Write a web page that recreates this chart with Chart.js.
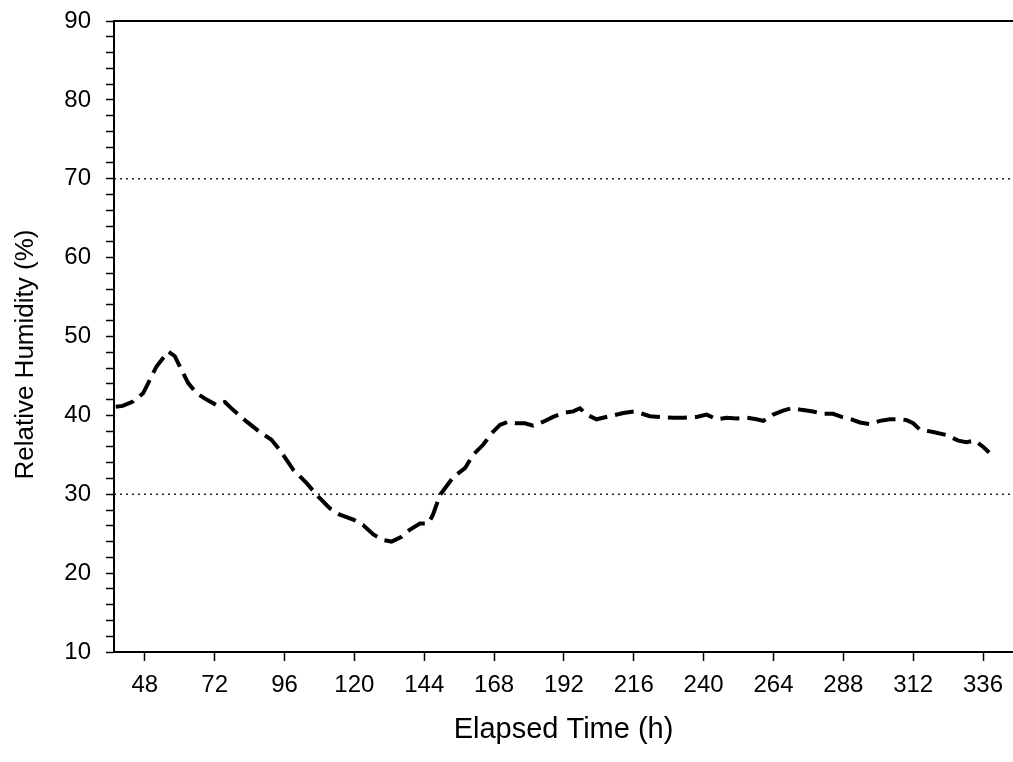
<!DOCTYPE html>
<html>
<head>
<meta charset="utf-8">
<script src="https://cdn.jsdelivr.net/npm/chart.js@4/dist/chart.umd.min.js"></script>
<style>
  html, body { margin: 0; padding: 0; background: #fff; }
  canvas { display: block; }
</style>
</head>
<body>
<canvas id="rhChart" width="1013" height="762"></canvas>
<script>
// elapsed time (h) and relative humidity (%) readings
const hours = [
  38, 40.4, 43.9, 47.4, 52, 56, 58.3, 60, 62.9, 65.8, 69.2, 72.6, 75.5, 78.3,
  83, 87.5, 91.5, 94.4, 99, 103.6, 107.6, 111.6, 115, 119.6, 123, 126.5, 129.9,
  132.8, 136.2, 139, 142.5, 145.4, 147, 149.4, 154, 158, 160.8, 164.3, 167.1,
  170, 172.8, 175.7, 178.6, 181.4, 184.9, 188.3, 191.7, 195.2, 197.5, 199.8,
  203.2, 207.8, 212.4, 216.4, 221.5, 225, 229.6, 233, 237.6, 241, 244.5, 247.9,
  251.3, 254.8, 258.2, 260.5, 263.9, 267.3, 270.2, 273.6, 277.6, 281, 284.5,
  287.4, 290.8, 293.7, 297.1, 300.6, 304, 307.5, 309.8, 312, 314.3, 318.9,
  323.5, 327.5, 330.3, 333.2, 336.1, 338.1
];
const humidity = [
  41.1, 41.2, 41.75, 42.8, 46.2, 48.1, 47.5, 46.2, 44.1, 42.8, 42.0, 41.3, 41.7, 40.7,
  39.2, 37.9, 36.9, 35.6, 33.1, 31.4, 29.7, 28.2, 27.4, 26.8, 26.1, 24.9, 24.2,
  24.0, 24.6, 25.5, 26.3, 26.3, 27.4, 29.9, 32.2, 33.3, 35.0, 36.3, 37.7,
  38.8, 39.2, 39.0, 39.0, 38.7, 39.2, 39.8, 40.3, 40.5, 40.9, 40.1,
  39.5, 39.9, 40.3, 40.5, 39.9, 39.8, 39.7, 39.7, 39.8, 40.1, 39.5, 39.7,
  39.6, 39.7, 39.5, 39.3, 40.1, 40.6, 40.9, 40.7, 40.5, 40.2, 40.2,
  39.8, 39.5, 39.1, 38.9, 39.3, 39.5, 39.5, 39.4, 39.0, 38.2, 37.9,
  37.5, 36.8, 36.6, 36.8, 36.0, 35.3
];
const xTicks = [48, 72, 96, 120, 144, 168, 192, 216, 240, 264, 288, 312, 336];
const yTicks = [];
for (let v = 10; v <= 90; v += 2) yTicks.push(v);
const limitLevels = [70, 30];

const X_MIN = 37.4, X_MAX = 346.3;
const font = 'Arial, "Liberation Sans", Helvetica, sans-serif';

const datasets = [{
  data: hours.map((h, i) => ({ x: h, y: humidity[i] })),
  borderColor: '#000',
  borderWidth: 4,
  borderDash: [19, 8],
  pointRadius: 0,
  tension: 0,
  fill: false
}];
limitLevels.forEach(lv => {
  datasets.push({
    data: [{ x: X_MIN, y: lv }, { x: X_MAX, y: lv }],
    borderColor: '#222',
    borderWidth: 1.4,
    borderDash: [2, 4],
    pointRadius: 0,
    fill: false
  });
});

new Chart(document.getElementById('rhChart'), {
  type: 'line',
  data: { datasets },
  options: {
    responsive: false,
    animation: false,
    layout: { padding: { top: 21, right: 0, left: 0, bottom: 0 } },
    plugins: { legend: { display: false }, tooltip: { enabled: false } },
    scales: {
      x: {
        type: 'linear',
        min: X_MIN, max: X_MAX,
        afterBuildTicks: s => { s.ticks = xTicks.map(v => ({ value: v })); },
        afterFit: s => { s.height = 110; s.paddingLeft = 0; s.paddingRight = 0; },
        border: { color: '#000', width: 2 },
        grid: { drawOnChartArea: false, tickLength: 9, tickColor: '#000', tickWidth: 1.5 },
        ticks: { color: '#000', font: { family: font, size: 24 }, padding: 10, maxRotation: 0 },
        title: {
          display: true, text: 'Elapsed Time (h)', color: '#000',
          font: { family: font, size: 29 }, padding: { top: 0, bottom: 15 }
        }
      },
      xTop: {
        type: 'linear', position: 'top',
        min: X_MIN, max: X_MAX,
        afterFit: s => { s.height = 0; },
        border: { color: '#000', width: 2 },
        grid: { display: false },
        ticks: { display: false }
      },
      y: {
        min: 10, max: 90,
        afterBuildTicks: s => { s.ticks = yTicks.map(v => ({ value: v })); },
        afterFit: s => { s.width = 114; s.paddingTop = 0; s.paddingBottom = 0; },
        border: { color: '#000', width: 2 },
        grid: { drawOnChartArea: false, tickLength: 8, tickColor: '#000', tickWidth: 1.5 },
        ticks: {
          color: '#000', font: { family: font, size: 24 }, padding: 15, autoSkip: false,
          callback: v => (v % 10 === 0 ? v : '')
        },
        title: {
          display: true, text: 'Relative Humidity (%)     ', color: '#000',
          font: { family: font, size: 26 }, padding: { top: 10, bottom: 0 }
        }
      }
    }
  }
});
</script>
</body>
</html>
